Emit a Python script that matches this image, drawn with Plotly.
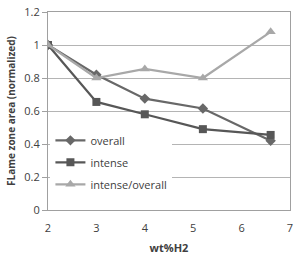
import plotly.graph_objects as go

wt_h2 = [2, 3, 4, 5.2, 6.6]
overall = [1.0, 0.82, 0.675, 0.615, 0.42]
intense = [1.0, 0.655, 0.58, 0.49, 0.455]
ratio = [1.0, 0.80, 0.855, 0.80, 1.08]

series = [
    ("overall", overall, "#686868", "diamond", 8),
    ("intense", intense, "#575757", "square", 8),
    ("intense/overall", ratio, "#a8a8a8", "triangle-up", 9),
]

fig = go.Figure()
for name, vals, col, sym, sz in series:
    fig.add_trace(go.Scatter(
        x=wt_h2, y=vals, name=name, mode="lines+markers", legendgroup=name,
        line=dict(color=col, width=2.2),
        marker=dict(symbol=sym, size=sz, color=col),
    ))

font = "Open Sans, Liberation Sans, sans-serif"
fig.update_layout(
    width=295, height=255,
    margin=dict(l=48, r=4, t=8, b=45),
    paper_bgcolor="white", plot_bgcolor="white",
    font=dict(family=font, size=11, color="#404040"),
    showlegend=True,
    legend=dict(x=0.01, y=0.425, xanchor="left", yanchor="top",
                bgcolor="white", borderwidth=0,
                font=dict(size=11, color="#404040"),
                itemwidth=30, tracegroupgap=3),
    xaxis=dict(range=[2, 7], tickvals=[2, 3, 4, 5, 6, 7],
               showgrid=False, showline=True, linecolor="#a0a0a0", linewidth=1,
               mirror=True, ticks="", zeroline=False, ticklabeloverflow="allow",
               ticklabelstandoff=8, automargin=False,
               title=dict(text="<b>wt%H2</b>", font=dict(size=11), standoff=10)),
    yaxis=dict(range=[0, 1.2], tickvals=[0, 0.2, 0.4, 0.6, 0.8, 1, 1.2],
               ticktext=["0", "0.2", "0.4", "0.6", "0.8", "1", "1.2"],
               showgrid=True, gridcolor="#b4b4b4", gridwidth=1,
               showline=True, linecolor="#a0a0a0", linewidth=1, mirror=True,
               ticks="outside", ticklen=5, tickcolor="#a0a0a0", zeroline=False,
               ticklabeloverflow="allow",
               title=dict(text="<b>FLame zone area (normalized)</b>", font=dict(size=10), standoff=6)),
)

fig.write_html("out.html")
